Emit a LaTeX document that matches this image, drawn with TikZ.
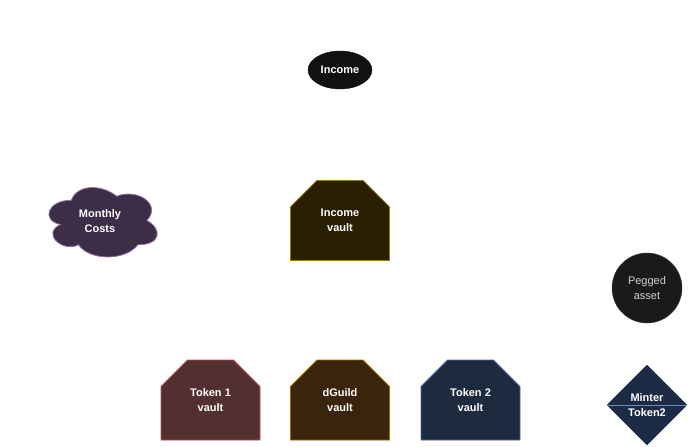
\documentclass[tikz,border=0pt]{standalone}
\usepackage{fontspec}
\setmainfont{Liberation Sans}
\usetikzlibrary{shapes.misc,shapes.geometric}
\definecolor{incfill}{HTML}{111111}
\definecolor{ivfill}{HTML}{2A1F00}
\definecolor{ivdraw}{HTML}{9C7A00}
\definecolor{t1fill}{HTML}{532F2F}
\definecolor{t1draw}{HTML}{B85450}
\definecolor{dgfill}{HTML}{3A240C}
\definecolor{dgdraw}{HTML}{A06A00}
\definecolor{t2fill}{HTML}{1E2A3D}
\definecolor{t2draw}{HTML}{4F6F9F}
\definecolor{mcfill}{HTML}{3D2D47}
\definecolor{mcdraw}{HTML}{9673A6}
\definecolor{pgfill}{HTML}{1A1A1A}
\definecolor{pgdraw}{HTML}{3A3A3A}
\definecolor{pgtext}{HTML}{D0D0D0}
\definecolor{mtfill}{HTML}{1C2B45}
\definecolor{mtdraw}{HTML}{6C8EBF}
\tikzset{
  lbl/.style={font=\bfseries\fontsize{11}{15}\selectfont, text=white, align=center},
  vault/.style={lbl, chamfered rectangle, chamfered rectangle corners={north west,north east},
    chamfered rectangle xsep=19pt, chamfered rectangle ysep=15pt,
    minimum width=99pt, minimum height=80pt, inner sep=0pt, line width=0.8pt},
}
\begin{document}
\begin{tikzpicture}[x=1pt,y=-1pt]
\useasboundingbox (0,0) rectangle (688,447);
\node[lbl, ellipse, fill=incfill, draw=incfill, minimum width=64pt, minimum height=38pt, inner sep=0pt] (income) at (340,70) {Income};
\node[vault, fill=ivfill, draw=ivdraw] (ivault) at (340,220.5) {Income\\vault};
\node[vault, fill=t1fill, draw=t1draw] (t1vault) at (210.5,400) {Token 1\\vault};
\node[vault, fill=dgfill, draw=dgdraw] (dgvault) at (340,400) {dGuild\\vault};
\node[vault, fill=t2fill, draw=t2draw] (t2vault) at (470.5,400) {Token 2\\vault};
% cloud (draw.io style)
\begin{scope}[shift={(41,180)}, x=121pt, y=-81pt]
\filldraw[fill=mcfill, draw=mcdraw, line width=0.8pt]
  (0.25,0.25) .. controls (0.05,0.25) and (0,0.5) .. (0.16,0.55)
  .. controls (0,0.66) and (0.18,0.9) .. (0.31,0.8)
  .. controls (0.4,1) and (0.7,1) .. (0.8,0.8)
  .. controls (1,0.8) and (1,0.6) .. (0.875,0.5)
  .. controls (1,0.3) and (0.8,0.1) .. (0.625,0.2)
  .. controls (0.5,0.05) and (0.3,0.05) .. (0.25,0.25) -- cycle;
\end{scope}
\node[lbl] (costs) at (100,221) {Monthly\\Costs};
\node[lbl, circle, fill=pgfill, draw=pgdraw, minimum size=70pt, inner sep=0pt, text=pgtext, font=\fontsize{11}{15}\selectfont] (pegged) at (647,288) {Pegged\\asset};
\node[diamond, fill=mtfill, draw=mtfill, minimum width=80pt, minimum height=80pt, inner sep=0pt, aspect=1] (minter) at (647,405) {};
\draw[mtdraw, line width=0.8pt] (minter.west) -- (minter.east);
\node[lbl, anchor=base, inner sep=0pt] (mintera) at (647,401) {Minter};
\node[lbl, anchor=base, inner sep=0pt] (minterb) at (647,416) {Token2};
\end{tikzpicture}
\end{document}
